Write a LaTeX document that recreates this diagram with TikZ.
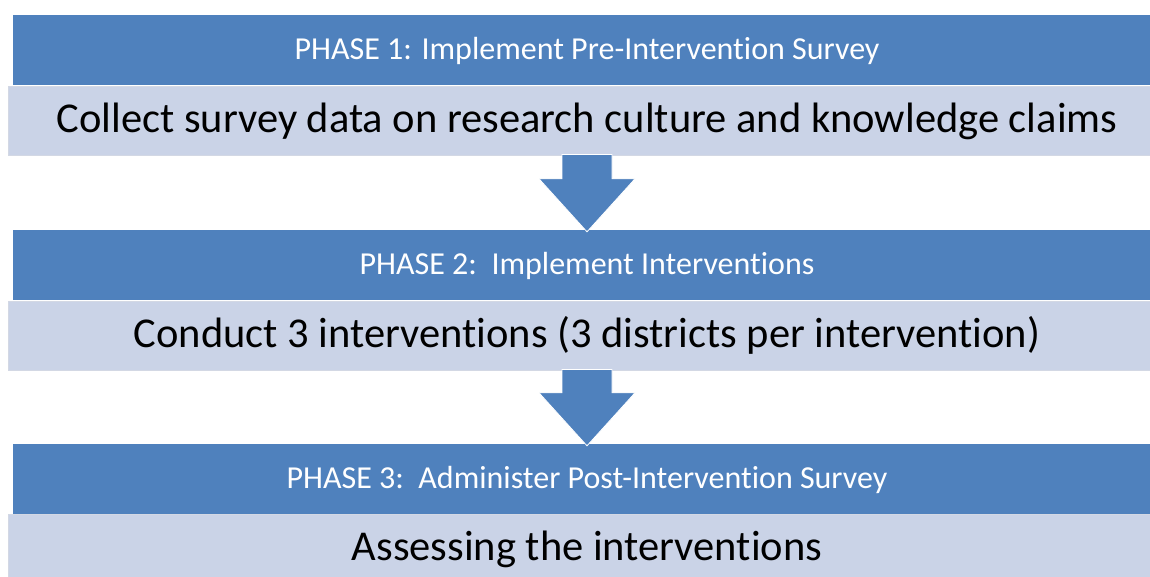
\documentclass[tikz,border=0pt]{standalone}
\usepackage{fontspec}
\setmainfont{Carlito}[Ligatures=NoCommon]
\usetikzlibrary{calc}
\definecolor{phaseblue}{HTML}{4F81BD}
\definecolor{detailfill}{HTML}{CAD3E7}
\definecolor{detailedge}{HTML}{D3D8E4}
\begin{document}
\begin{tikzpicture}[x=1pt,y=-1pt,
  phasebar/.style={rectangle, fill=phaseblue, draw=none, inner sep=0pt,
    minimum width=1148pt, minimum height=70pt, text=white,
    font=\fontsize{32}{34}\selectfont, text height=18pt, text depth=0pt},
  detailbox/.style={rectangle, fill=detailfill, draw=detailedge, line width=1pt,
    inner sep=0pt, minimum width=1157pt, minimum height=69pt, text=black,
    font=\fontsize{42.5}{44}\selectfont, text height=23pt, text depth=0pt},
  downarrow/.style={fill=phaseblue, draw=white, line width=0.8pt}]
  \clip (0,0) rectangle (1150,576);
  \fill[white] (0,0) rectangle (1150,576);

  % phase headers and their detail boxes
  \node[phasebar]  (p1) at (587,50)    {PHASE 1: Implement Pre-Intervention Survey};
  \node[detailbox] (d1) at (587,120.5) {Collect survey data on research culture and knowledge claims};
  \node[phasebar]  (p2) at (587,265)   {PHASE 2:\ \ Implement Interventions};
  \node[detailbox] (d2) at (587,335.5) {Conduct 3 interventions (3 districts per intervention)};
  \node[phasebar]  (p3) at (587,479)   {PHASE 3:\ \ Administer Post-Intervention Survey};
  \node[detailbox] (d3) at (587,548.5) {Assessing the interventions};

  % block arrows leading from one phase to the next
  \foreach \a/\b in {d1/p2, d2/p3} {
    \coordinate (s) at (\a.south);
    \coordinate (t) at ($(\b.north)+(0,2)$);
    \draw[downarrow] ($(s)+(-25,-1)$) -- ($(t)+(-25,-53)$) -- ($(t)+(-48,-53)$)
      -- (t) -- ($(t)+(48,-53)$) -- ($(t)+(25,-53)$) -- ($(s)+(25,-1)$) -- cycle;
  }
\end{tikzpicture}
\end{document}
